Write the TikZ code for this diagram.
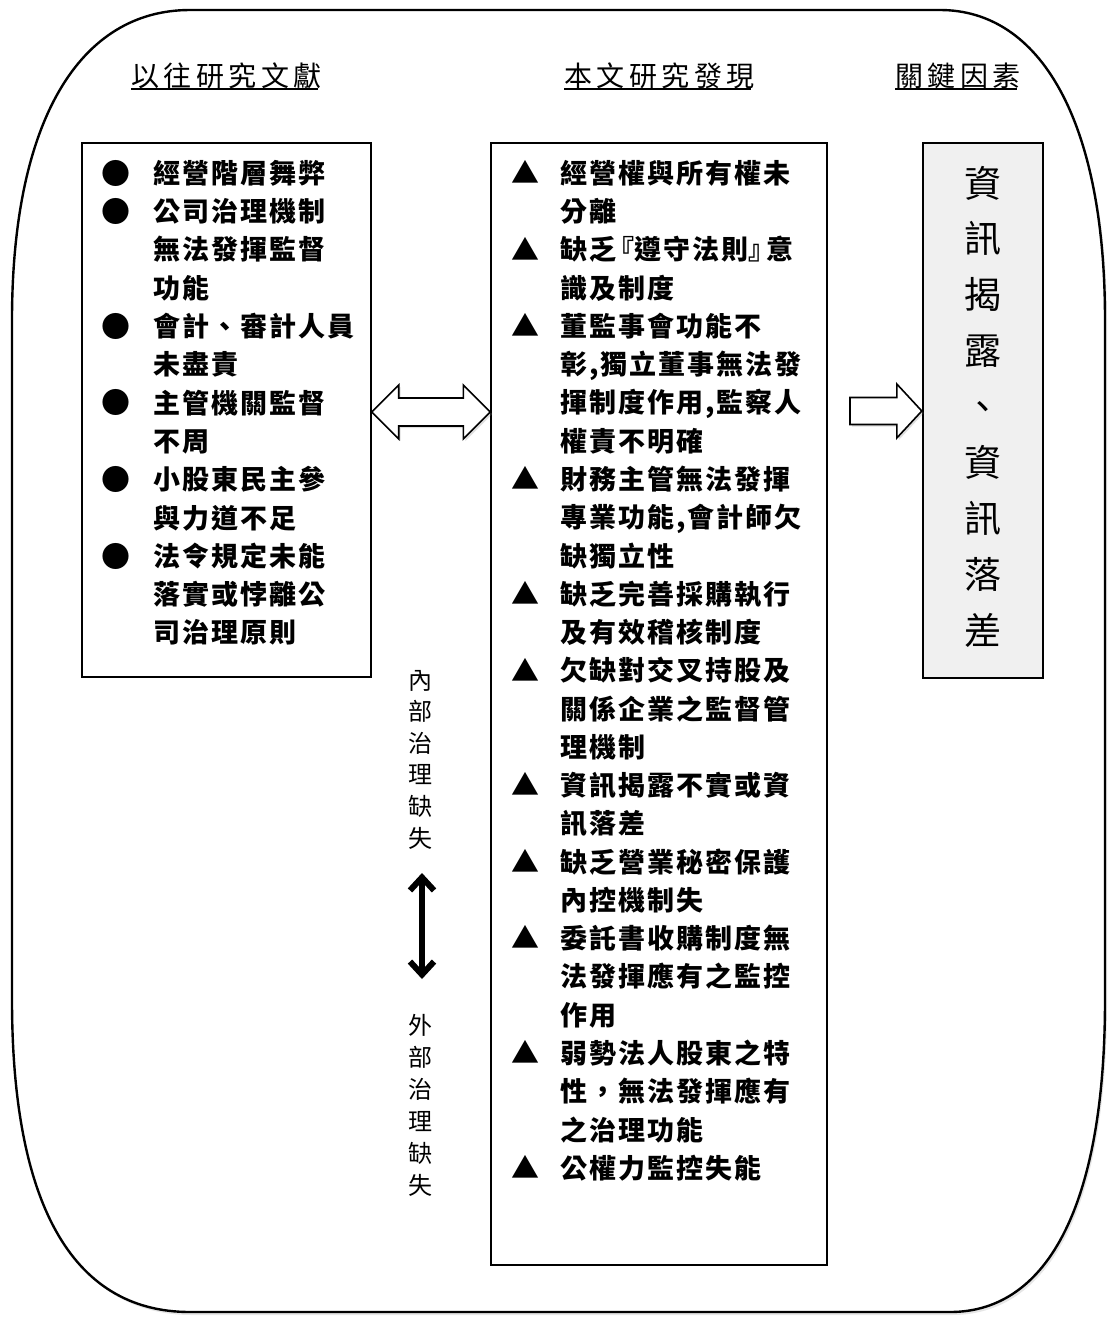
\documentclass[tikz,border=0pt]{standalone}
\usepackage{fontspec}
\usetikzlibrary{arrows.meta,shadows,calc}
\newfontfamily\cjk{Noto Sans CJK TC}
\newcommand\boxfont{\cjk\bfseries\fontsize{27}{38}\selectfont\addfontfeature{LetterSpace=7.4}}
\newcommand\headfont{\cjk\fontsize{28}{30}\selectfont\addfontfeature{LetterSpace=16}}
\newcommand\qL{\hspace{2pt}\makebox[16pt][r]{『}}
\newcommand\qR{\makebox[16pt][l]{』}\hspace{2pt}}
\tikzset{
  frame/.style={line width=2.4pt, draw=black},
  txtbox/.style={draw=black, line width=1.4pt, fill=white, inner sep=0pt},
  keybox/.style={draw=black, line width=2.4pt, fill=black!6, inner sep=0pt},
  boxtxt/.style={anchor=base west, inner sep=0pt, font=\boxfont},
  dot/.style={anchor=center, inner sep=0pt, font=\cjk\fontsize{29}{29}\selectfont},
  tri/.style={anchor=center, inner sep=0pt, font=\cjk\fontsize{28}{28}\selectfont},
  head/.style={anchor=base west, inner sep=0pt, font=\headfont},
  keytxt/.style={anchor=base, inner sep=0pt, font=\cjk\fontsize{37}{37}\selectfont},
  vtxt/.style={anchor=base, inner sep=0pt, font=\cjk\fontsize{24}{24}\selectfont},
  blockarrow/.style={draw=black, line width=1.6pt, fill=white, line join=miter,
     drop shadow={opacity=0.25, shadow xshift=2pt, shadow yshift=-2pt}},
  dblarrow/.style={draw=black, line width=6pt, {Straight Barb[length=13pt,width=24pt]}-{Straight Barb[length=13pt,width=24pt]}}
}
\begin{document}
\begin{tikzpicture}[x=1pt,y=-1pt]
\useasboundingbox (0,0) rectangle (1112,1318);
% outer frame
\draw[frame, fill=white, drop shadow={opacity=0.2, shadow xshift=2pt, shadow yshift=-3pt}]
  (190,10) -- (940,10) .. controls (1040,10) and (1105,120) .. (1105,320)
  -- (1105,1000) .. controls (1105,1200) and (1050,1312) .. (950,1312)
  -- (190,1312) .. controls (70,1312) and (12,1200) .. (12,1000)
  -- (12,320) .. controls (12,120) and (80,10) .. (190,10) -- cycle;

% headers
\node[head] (h1) at (131,86) {以往研究文獻};
\node[head] (h2) at (564,86) {本文研究發現};
\node[head] (h3) at (895,86) {關鍵因素};
\foreach \h in {h1,h2,h3}
  \draw[line width=1.4pt] ([yshift=-3pt]\h.base west) -- ([yshift=-3pt,xshift=-4pt]\h.base east);

% boxes
\node[txtbox, minimum width=289pt, minimum height=534pt] (lbox) at (226.5,410) {};
\node[txtbox, minimum width=336pt, minimum height=1122pt] (mbox) at (659,704) {};
\node[keybox, minimum width=120pt, minimum height=535pt] (rbox) at (983,410.5) {};

% left box text
\foreach \t [count=\i] in {經營階層舞弊, 公司治理機制, 無法發揮監督, 功能, 會計、審計人員, 未盡責, 主管機關監督, 不周, 小股東民主參, 與力道不足, 法令規定未能, 落實或悖離公, 司治理原則}
  \node[boxtxt] (l\i) at (153,{183.3+38.3*(\i-1)}) {\t};
\foreach \i in {1,2,5,7,9,11}
  \node[dot] (lb\i) at (115.5,{173+38.3*(\i-1)}) {●};

% middle box text
\foreach \t [count=\i] in {經營權與所有權未, 分離, {缺乏\qL 遵守法則\qR 意}, 識及制度, 董監事會功能不, {彰,獨立董事無法發}, {揮制度作用,監察人}, 權責不明確, 財務主管無法發揮, {專業功能,會計師欠}, 缺獨立性, 缺乏完善採購執行, 及有效稽核制度, 欠缺對交叉持股及, 關係企業之監督管, 理機制, 資訊揭露不實或資, 訊落差, 缺乏營業秘密保護, 內控機制失, 委託書收購制度無, 法發揮應有之監控, 作用, 弱勢法人股東之特, 性，無法發揮應有, 之治理功能, 公權力監控失能}
  \node[boxtxt] (m\i) at (560,{183.3+38.27*(\i-1)}) {\t};
\foreach \i in {1,3,5,9,12,14,17,19,21,24,27}
  \node[tri] (mb\i) at (525,{172+38.27*(\i-1)}) {▲};

% right box text
\foreach \c [count=\i] in {資,訊,揭,露,、,資,訊,落,差}
  \node[keytxt] (k\i) at (983,{197+55.9*(\i-1)}) {\c};

% vertical labels
\foreach \c [count=\i] in {內,部,治,理,缺,失}
  \node[vtxt] (in\i) at (420,{689.1+31.6*(\i-1)}) {\c};
\foreach \c [count=\i] in {外,部,治,理,缺,失}
  \node[vtxt] (ex\i) at (420,{1034.1+32*(\i-1)}) {\c};

% double block arrow between left and middle boxes
\coordinate (da) at (lbox.east |- 0,412);
\coordinate (db) at (mbox.west |- 0,412);
\draw[blockarrow] (da) -- ($(da)+(27,-27)$) -- ($(da)+(27,-14)$) -- ($(db)+(-27,-14)$)
  -- ($(db)+(-27,-27)$) -- (db) -- ($(db)+(-27,27)$) -- ($(db)+(-27,14)$)
  -- ($(da)+(27,14)$) -- ($(da)+(27,27)$) -- cycle;

% right block arrow into key box
\coordinate (ra) at (850,411);
\coordinate (rb) at (rbox.west |- 0,411);
\draw[blockarrow] ($(ra)+(0,-13.5)$) -- ($(rb)+(-25,-13.5)$) -- ($(rb)+(-25,-27)$) -- (rb)
  -- ($(rb)+(-25,27)$) -- ($(rb)+(-25,13.5)$) -- ($(ra)+(0,13.5)$) -- cycle;

% vertical double arrow
\coordinate (vt) at (422,873);
\coordinate (vb) at (422,979);
\draw[dblarrow] (vt) -- (vb);
\end{tikzpicture}
\end{document}
